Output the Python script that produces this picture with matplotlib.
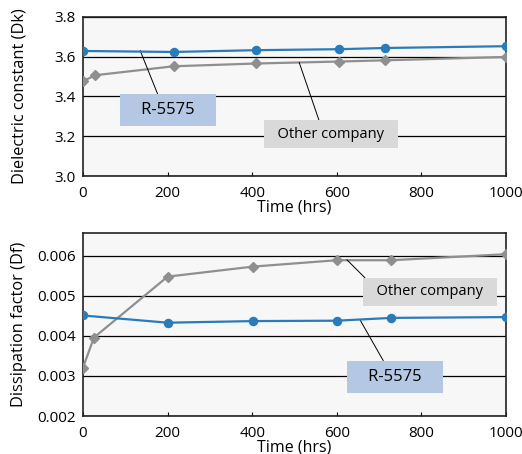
import numpy as np
import matplotlib
matplotlib.use('Agg')
import matplotlib.pyplot as plt

plt.rcParams['font.family'] = ['Open Sans', 'DejaVu Sans']
plt.rcParams['font.size'] = 10

# dielectric constant (Dk)
t_dk_r = [0, 214, 410, 606, 715, 1000]
dk_r = [3.629, 3.624, 3.633, 3.638, 3.644, 3.653]
t_dk_o = [0, 29, 214, 410, 606, 715, 1000]
dk_o = [3.477, 3.507, 3.552, 3.566, 3.576, 3.582, 3.599]

# dissipation factor (Df)
t_df_r = [0, 200, 401, 600, 729, 1000]
df_r = [0.00451, 0.00433, 0.00437, 0.00438, 0.00445, 0.00447]
t_df_o = [0, 26, 200, 401, 600, 729, 1000]
df_o = [0.00321, 0.00396, 0.00548, 0.00573, 0.00589, 0.00589, 0.00604]

blue = '#2a7bb9'
gray = '#8f8f8f'
bg = '#f7f7f7'

fig = plt.figure(figsize=(5.22, 4.54), dpi=100)
ax1 = fig.add_axes([0.159, 0.6123, 0.8103, 0.3503])
ax2 = fig.add_axes([0.159, 0.0837, 0.8103, 0.4031])


def style(ax):
    ax.set_facecolor(bg)
    ax.set_xlim(0, 1000)
    ax.set_xticks([0, 200, 400, 600, 800, 1000])
    ax.tick_params(axis='x', direction='in', length=3, pad=7, labelsize=11)
    ax.tick_params(axis='y', length=0, pad=5, labelsize=11)
    ax.yaxis.grid(True, color='black', linewidth=0.9)
    ax.set_axisbelow(True)
    for s in ax.spines.values():
        s.set_linewidth(1.2)
        s.set_color('#222222')
    ax.set_xlabel('Time (hrs)', fontsize=11.5, labelpad=-1)


style(ax1)
ax1.plot(t_dk_o, dk_o, color=gray, lw=1.6, marker='D', ms=5, mec=gray, zorder=3)
ax1.plot(t_dk_r, dk_r, color=blue, lw=1.6, marker='o', ms=5.8, zorder=4)
ax1.set_ylim(3.0, 3.8)
ax1.set_yticks([3.0, 3.2, 3.4, 3.6, 3.8])
ax1.set_yticklabels(['3.0', '3.2', '3.4', '3.6', '3.8'])
ax1.set_ylabel('Dielectric constant (Dk)', fontsize=11.8)
ax1.yaxis.set_label_coords(-0.132, 0.5)

ax1.annotate('   R-5575   ', xy=(135, 3.632), xytext=(201, 3.332),
             ha='center', va='center', fontsize=12, fontweight='medium',
             bbox=dict(boxstyle='square,pad=0.5', fc='#b4c7e3', ec='none'),
             arrowprops=dict(arrowstyle='-', color='black', lw=0.7,
                             shrinkA=0, shrinkB=0, relpos=(0.41, 1.0)))
ax1.annotate('  Other company  ', xy=(511, 3.572), xytext=(586, 3.211),
             ha='center', va='center', fontsize=10.5,
             bbox=dict(boxstyle='square,pad=0.45', fc='#d9d9d9', ec='none'),
             arrowprops=dict(arrowstyle='-', color='black', lw=0.7,
                             shrinkA=0, shrinkB=0, relpos=(0.42, 1.0)))

style(ax2)
ax2.plot(t_df_o, df_o, color=gray, lw=1.6, marker='D', ms=5, mec=gray, zorder=3)
ax2.plot(t_df_r, df_r, color=blue, lw=1.6, marker='o', ms=5.8, zorder=4)
ax2.set_ylim(0.002, 0.00657)
ax2.set_yticks([0.002, 0.003, 0.004, 0.005, 0.006])
ax2.set_yticklabels(['0.002', '0.003', '0.004', '0.005', '0.006'])
ax2.set_ylabel('Dissipation factor (Df)', fontsize=11.8)
ax2.yaxis.set_label_coords(-0.132, 0.5)

ax2.annotate('  Other company  ', xy=(624, 0.0059), xytext=(820, 0.0051),
             ha='center', va='center', fontsize=10.5,
             bbox=dict(boxstyle='square,pad=0.45', fc='#d9d9d9', ec='none'),
             arrowprops=dict(arrowstyle='-', color='black', lw=0.7,
                             shrinkA=0, shrinkB=0, relpos=(0.02, 1.0)))
ax2.annotate('   R-5575   ', xy=(655, 0.0044), xytext=(738, 0.002975),
             ha='center', va='center', fontsize=12, fontweight='medium',
             bbox=dict(boxstyle='square,pad=0.5', fc='#b4c7e3', ec='none'),
             arrowprops=dict(arrowstyle='-', color='black', lw=0.7,
                             shrinkA=0, shrinkB=0, relpos=(0.41, 1.0)))

fig.savefig('out.png', dpi=100)
